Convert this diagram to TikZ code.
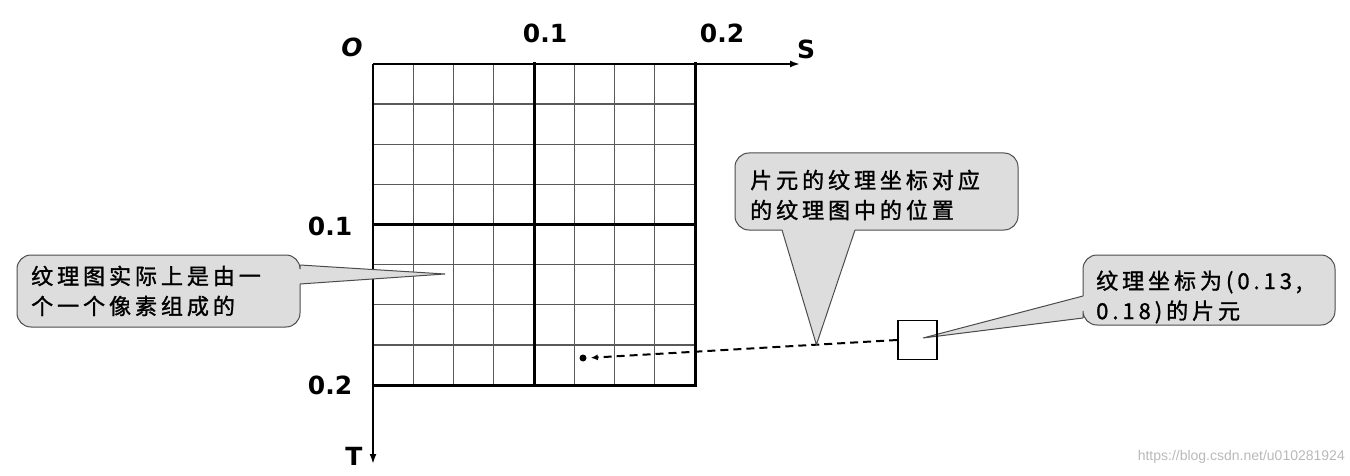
\documentclass[tikz,border=0pt]{standalone}
\usepackage{fontspec}
\usetikzlibrary{arrows.meta,calc}
\newfontfamily\cjk{Noto Sans CJK SC}[FakeBold=1.3,LetterSpace=18]
\newfontfamily\labfont{DejaVu Sans}
\newfontfamily\wmfont{Liberation Sans}
\begin{document}
\begin{tikzpicture}[x=1pt,y=-1pt,
  thingrid/.style={draw=gray!70!black, line width=1.3pt},
  thickgrid/.style={draw=black, line width=3pt, line cap=rect},
  axis/.style={line width=2.5pt, -{Latex[length=10pt,width=7pt]}},
  callfill/.style={fill=gray!27},
  callline/.style={draw=gray!60!black, line width=1pt},
  lab/.style={font=\labfont\bfseries\fontsize{25}{30}\selectfont, inner sep=0},
  ctext/.style={font=\cjk\fontsize{22}{30}\selectfont, align=left, anchor=west, inner sep=0}
]
\useasboundingbox (0,0) rectangle (1350,476);

% grid
\foreach \i in {1,2,3,5,6,7} {
  \draw[thingrid] ({373+40.25*\i},64) -- ({373+40.25*\i},385);
  \draw[thingrid] (373,{64+40.125*\i}) -- (695,{64+40.125*\i});
}
\draw[thickgrid] (534,64) -- (534,385);
\draw[thickgrid] (373,224.5) -- (695,224.5);
\draw[thickgrid] (695,64) -- (695,385) -- (373,385);

% axes
\coordinate (origin) at (373,64);
\coordinate (send) at (800,64);
\coordinate (tend) at (373,464);
\draw[axis] (origin) -- (send);
\draw[axis] (origin) -- (tend);

% labels
\node[lab, font=\labfont\bfseries\itshape\fontsize{25}{30}\selectfont] (lo) at (352,47) {O};
\node[lab] (ls1) at (545,33) {0.1};
\node[lab] (ls2) at (722,33) {0.2};
\node[lab] (ls) at (806,49) {S};
\node[lab] (lt1) at (330,226) {0.1};
\node[lab] (lt2) at (330,385) {0.2};
\node[lab] (lt) at (354,456) {T};

% callout 1
\coordinate (p1) at (445,274);
\fill[callfill] (300,265) -- (p1) -- (300,284) -- cycle;
\fill[callfill, rounded corners=14pt] (17,255) rectangle (300,327);
\draw[callline, rounded corners=14pt] (300,284) -- (300,327) -- (17,327) -- (17,255) -- (300,255) -- (300,265);
\draw[callline] (300,265) -- (p1) -- (300,284);
\node[ctext] (c1) at (31,291) {纹理图实际上是由一\\个一个像素组成的};

% texel point
\node[circle, fill=black, inner sep=0, minimum size=7pt] (texel) at (583,358) {};

% callout 3
\coordinate (p3) at (923,338);
\fill[callfill] (1083,296) -- (p3) -- (1083,318) -- cycle;
\fill[callfill, rounded corners=14pt] (1083,255) rectangle (1335,325);
\draw[callline, rounded corners=14pt] (1083,318) -- (1083,325) -- (1335,325) -- (1335,255) -- (1083,255) -- (1083,296);
\draw[callline] (1083,296) -- (p3) -- (1083,318);
\node[ctext] (c3) at (1096,297) {纹理坐标为(0.13,\\0.18)的片元};

% fragment square
\node[draw=black, line width=1.8pt, minimum size=39pt, inner sep=0] (frag) at (917.5,340) {};

% dashed connector
\draw[dash pattern=on 8pt off 5pt, line width=2pt, shorten >=4pt, -{Latex[length=7pt,width=6pt]}] (frag.west) -- (texel.east);
\coordinate (p2) at ($(frag.west)!0.26!(texel.east)$);

% callout 2
\fill[callfill] (782,229) -- (p2) -- (855,229) -- cycle;
\fill[callfill, rounded corners=14pt] (735,153) rectangle (1018,230);
\draw[callline, rounded corners=14pt] (855,230) -- (1018,230) -- (1018,153) -- (735,153) -- (735,230) -- (782,230);
\draw[callline] (782,230) -- (p2) -- (855,230);
\node[ctext] (c2) at (750,195) {片元的纹理坐标对应\\的纹理图中的位置};

% watermark
\node[font=\wmfont\fontsize{14}{16}\selectfont, text=gray!55, anchor=east, inner sep=0] (wm) at (1345,457) {https://blog.csdn.net/u010281924};
\end{tikzpicture}
\end{document}
